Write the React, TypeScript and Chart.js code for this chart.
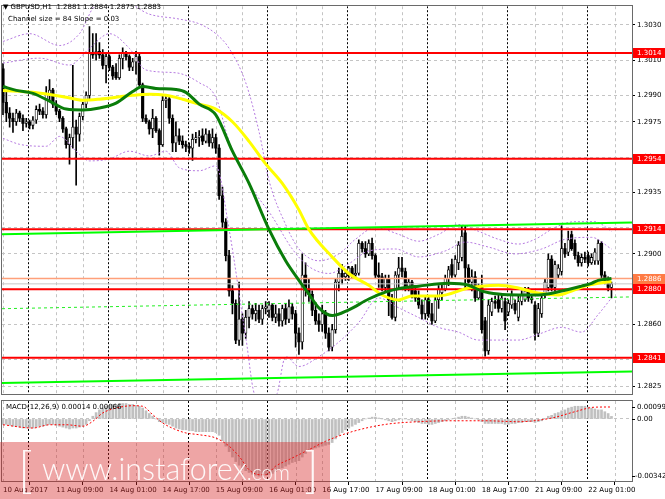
import React, { useEffect, useRef } from "react";
import { Chart, registerables } from "chart.js";

Chart.register(...registerables);

// ---------- texts ----------
const SYMBOL_TITLE = "GBPUSD,H1  1.2881 1.2884 1.2875 1.2883";
const CHANNEL_TITLE = "Channel size = 84 Slope = 0.03";
const MACD_TITLE = "MACD(12,26,9) 0.00014 0.00066";

// ---------- time axis ----------
const TIME_LABELS = [
  "10 Aug 2017", "11 Aug 09:00", "14 Aug 01:00", "14 Aug 17:00", "15 Aug 09:00", "16 Aug 01:00",
  "16 Aug 17:00", "17 Aug 09:00", "18 Aug 01:00", "18 Aug 17:00", "21 Aug 09:00", "22 Aug 01:00",
];
const TIME_LABEL_BARS = [0, 16, 32, 48, 64, 80, 96, 112, 128, 144, 160, 176];
const GRID_BARS = [0, 16, 24, 40, 48, 64, 72, 88, 96, 112, 120, 136, 144, 160, 168, 184];
const DAY_SEPARATOR_BARS = [7.5, 31.5, 55.5, 79.5, 103.5, 127.5, 151.5, 175.5];
const X_MIN = -0.3;
const X_MAX = 189.17;

// ---------- price axis ----------
const PRICE_MIN = 1.28206;
const PRICE_MAX = 1.30406;
const PRICE_TICKS = [1.2825, 1.284, 1.286, 1.288, 1.29, 1.2915, 1.2935, 1.2955, 1.2975, 1.299, 1.301, 1.303];
const RED_LEVELS = [1.3014, 1.2954, 1.2914, 1.288, 1.2841];
const ASK_LEVEL = 1.2886;
const BID_LEVEL = 1.2883;
const CHANNEL_UPPER = [1.29111, 1.29178];
const CHANNEL_LOWER = [1.28267, 1.28333];
const CHANNEL_MIDDLE = [1.28689, 1.28756];

// ---------- candles (H1) ----------
const OPEN = [
  1.3005, 1.2986, 1.298, 1.2977, 1.2975, 1.298, 1.2977, 1.2974, 1.2975, 1.2973, 1.2976, 1.2982,
  1.2981, 1.2979, 1.2991, 1.2993, 1.2985, 1.2981, 1.2977, 1.2971, 1.2962, 1.2966, 1.2972, 1.2968,
  1.2978, 1.2985, 1.299, 1.3014, 1.3013, 1.3015, 1.3013, 1.3007, 1.3012, 1.3006, 1.3003, 1.3,
  1.3011, 1.3014, 1.3012, 1.3006, 1.3009, 1.3012, 1.2996, 1.2977, 1.2975, 1.2971, 1.2977, 1.297,
  1.2962, 1.2987, 1.2988, 1.2977, 1.2963, 1.2967, 1.2964, 1.2962, 1.2961, 1.296, 1.2965, 1.2966,
  1.2967, 1.2964, 1.2968, 1.2963, 1.2966, 1.296, 1.2933, 1.2918, 1.2899, 1.2879, 1.2872, 1.2851,
  1.2863, 1.2855, 1.2864, 1.2869, 1.2866, 1.2868, 1.2863, 1.2869, 1.2868, 1.2871, 1.2864, 1.2866,
  1.2862, 1.2869, 1.2863, 1.287, 1.2866, 1.2855, 1.285, 1.2888, 1.288, 1.2877, 1.2868, 1.2862,
  1.286, 1.2866, 1.2855, 1.2847, 1.2857, 1.2884, 1.2889, 1.2887, 1.2889, 1.2892, 1.2888, 1.2889,
  1.2906, 1.2903, 1.29, 1.2906, 1.2899, 1.2888, 1.2887, 1.2881, 1.2886, 1.2874, 1.2864, 1.2888,
  1.2892, 1.289, 1.2881, 1.2884, 1.2879, 1.2875, 1.2871, 1.2866, 1.2874, 1.2866, 1.2862, 1.2874,
  1.2878, 1.288, 1.2886, 1.2894, 1.2888, 1.2895, 1.2898, 1.2912, 1.2892, 1.2884, 1.2887, 1.2875,
  1.2881, 1.2862, 1.2845, 1.2867, 1.2873, 1.2874, 1.2869, 1.2873, 1.2867, 1.2871, 1.2872, 1.2864,
  1.2873, 1.2874, 1.2879, 1.2875, 1.2871, 1.2855, 1.2866, 1.2877, 1.2881, 1.2897, 1.2881, 1.2888,
  1.289, 1.2903, 1.2901, 1.2911, 1.2906, 1.2899, 1.2895, 1.2898, 1.2899, 1.2895, 1.2896, 1.2896,
  1.2906, 1.2888, 1.2885, 1.2881,
];
const HIGH = [
  1.3008, 1.2992, 1.2983, 1.298, 1.2982, 1.2981, 1.2979, 1.2977, 1.2976, 1.2978, 1.2984, 1.2985,
  1.2983, 1.2995, 1.2999, 1.2994, 1.2987, 1.2982, 1.2978, 1.2972, 1.2968, 1.3007, 1.2976, 1.298,
  1.2986, 1.2992, 1.3029, 1.3025, 1.3025, 1.302, 1.3016, 1.3014, 1.3013, 1.3007, 1.3008, 1.3013,
  1.3017, 1.3015, 1.3013, 1.3011, 1.3015, 1.3014, 1.2997, 1.2979, 1.2976, 1.2982, 1.2978, 1.2971,
  1.299, 1.299, 1.2989, 1.2979, 1.2975, 1.2971, 1.2967, 1.2964, 1.2963, 1.2968, 1.2969, 1.297,
  1.2971, 1.2971, 1.297, 1.2971, 1.2968, 1.2962, 1.2938, 1.292, 1.2902, 1.2882, 1.2874, 1.2884,
  1.2866, 1.2868, 1.2873, 1.2871, 1.2872, 1.2871, 1.2871, 1.2873, 1.2873, 1.2872, 1.2871, 1.2869,
  1.2871, 1.2872, 1.2874, 1.2872, 1.2868, 1.2858, 1.29, 1.2895, 1.2886, 1.2879, 1.2872, 1.2866,
  1.2871, 1.2868, 1.2858, 1.286, 1.2886, 1.2892, 1.2894, 1.2891, 1.2893, 1.2893, 1.2894, 1.2908,
  1.2907, 1.2907, 1.2908, 1.2909, 1.29, 1.2895, 1.2889, 1.2888, 1.2888, 1.2877, 1.289, 1.2898,
  1.2898, 1.2892, 1.2886, 1.2885, 1.2882, 1.2879, 1.2874, 1.2876, 1.2876, 1.2872, 1.2876, 1.2882,
  1.2883, 1.2888, 1.2893, 1.2897, 1.2899, 1.2907, 1.2916, 1.2916, 1.2894, 1.2891, 1.289, 1.2883,
  1.2888, 1.2864, 1.2874, 1.2875, 1.2876, 1.2877, 1.2877, 1.2875, 1.2874, 1.2879, 1.2874, 1.2876,
  1.2879, 1.2881, 1.2881, 1.2877, 1.2873, 1.2872, 1.2878, 1.2886, 1.29, 1.2899, 1.2896, 1.2894,
  1.2916, 1.2906, 1.2913, 1.2913, 1.2908, 1.2901, 1.29, 1.2901, 1.2901, 1.29, 1.2903, 1.2908,
  1.2907, 1.289, 1.2887, 1.2884,
];
const LOW = [
  1.2979, 1.2975, 1.2972, 1.2969, 1.2973, 1.2975, 1.297, 1.2972, 1.2971, 1.2971, 1.2974, 1.2979,
  1.2977, 1.2977, 1.2987, 1.2983, 1.2979, 1.2975, 1.2969, 1.296, 1.2951, 1.296, 1.2939, 1.2964,
  1.2976, 1.2983, 1.2988, 1.3011, 1.301, 1.3011, 1.3005, 1.2997, 1.3004, 1.2999, 1.2999, 1.2999,
  1.3005, 1.301, 1.3004, 1.3004, 1.3002, 1.2995, 1.2975, 1.2974, 1.2968, 1.2966, 1.2969, 1.2956,
  1.2961, 1.2983, 1.2974, 1.2958, 1.2958, 1.2962, 1.296, 1.2958, 1.2957, 1.2953, 1.2963, 1.2961,
  1.2962, 1.2963, 1.2961, 1.296, 1.2957, 1.2931, 1.2915, 1.2896, 1.2876, 1.2866, 1.2849, 1.2848,
  1.2848, 1.2852, 1.2858, 1.2863, 1.2862, 1.2861, 1.286, 1.2866, 1.2864, 1.2862, 1.2861, 1.2859,
  1.2859, 1.286, 1.2861, 1.2863, 1.2847, 1.2843, 1.2846, 1.2876, 1.2873, 1.2865, 1.286, 1.2856,
  1.2856, 1.2852, 1.2845, 1.2845, 1.2855, 1.2879, 1.2883, 1.2885, 1.2885, 1.2886, 1.2886, 1.2888,
  1.2901, 1.2898, 1.2899, 1.2897, 1.2886, 1.2881, 1.2879, 1.2879, 1.2865, 1.2863, 1.2862, 1.288,
  1.2887, 1.2879, 1.2879, 1.2875, 1.2873, 1.2869, 1.2863, 1.2863, 1.2864, 1.286, 1.2861, 1.2869,
  1.2874, 1.2879, 1.2882, 1.2886, 1.2887, 1.2891, 1.2896, 1.288, 1.2882, 1.2879, 1.2873, 1.2874,
  1.2855, 1.2842, 1.2843, 1.2865, 1.2869, 1.2867, 1.2867, 1.2857, 1.2865, 1.2869, 1.2866, 1.2862,
  1.2871, 1.2873, 1.2873, 1.2872, 1.2851, 1.2853, 1.2864, 1.2875, 1.2879, 1.2879, 1.2879, 1.2886,
  1.2888, 1.2898, 1.2899, 1.2902, 1.2897, 1.2893, 1.2893, 1.2895, 1.2893, 1.2894, 1.2894, 1.2894,
  1.2886, 1.2883, 1.2879, 1.2875,
];
const CLOSE = [
  1.2986, 1.298, 1.2977, 1.2975, 1.298, 1.2977, 1.2974, 1.2975, 1.2973, 1.2976, 1.2982, 1.2981,
  1.2979, 1.2991, 1.2993, 1.2985, 1.2981, 1.2977, 1.2971, 1.2962, 1.2966, 1.2972, 1.2968, 1.2978,
  1.2985, 1.299, 1.3014, 1.3013, 1.3015, 1.3013, 1.3007, 1.3012, 1.3006, 1.3001, 1.3, 1.3011,
  1.3014, 1.3012, 1.3006, 1.3009, 1.3012, 1.2996, 1.2977, 1.2975, 1.2971, 1.2977, 1.297, 1.2962,
  1.2987, 1.2988, 1.2977, 1.2963, 1.2967, 1.2964, 1.2962, 1.2961, 1.296, 1.2965, 1.2966, 1.2967,
  1.2964, 1.2968, 1.2963, 1.2966, 1.296, 1.2933, 1.2918, 1.2899, 1.2879, 1.2872, 1.2851, 1.2863,
  1.2855, 1.2864, 1.2869, 1.2866, 1.2868, 1.2863, 1.2869, 1.287, 1.2871, 1.2864, 1.2866, 1.2862,
  1.2869, 1.2863, 1.287, 1.2866, 1.2855, 1.285, 1.2888, 1.288, 1.2877, 1.2868, 1.2862, 1.286,
  1.2866, 1.2855, 1.2847, 1.2857, 1.2884, 1.2889, 1.2887, 1.2889, 1.2892, 1.2888, 1.2889, 1.2906,
  1.2903, 1.29, 1.2906, 1.2899, 1.2888, 1.2887, 1.2881, 1.2886, 1.2874, 1.2864, 1.2888, 1.2892,
  1.289, 1.2881, 1.2884, 1.2877, 1.2875, 1.2871, 1.2866, 1.2874, 1.2866, 1.2862, 1.2874, 1.288,
  1.288, 1.2886, 1.2891, 1.2888, 1.2897, 1.2905, 1.291, 1.2892, 1.2884, 1.2887, 1.2875, 1.288,
  1.2857, 1.2845, 1.2871, 1.2873, 1.2872, 1.2869, 1.2875, 1.2862, 1.2872, 1.2877, 1.2868, 1.2873,
  1.2877, 1.2879, 1.2875, 1.2874, 1.2855, 1.2869, 1.2875, 1.2884, 1.2897, 1.2881, 1.2894, 1.2892,
  1.2903, 1.29, 1.2908, 1.2903, 1.2899, 1.2895, 1.2898, 1.2897, 1.2895, 1.2898, 1.2901, 1.2906,
  1.2888, 1.2885, 1.2881, 1.2883,
];

// ---------- moving averages (read at sample bars) ----------
const YELLOW_BARS = [0, 9, 19, 24, 29, 39, 44, 49, 54, 59, 64, 69, 74, 79, 84, 89, 92, 99, 104, 110, 114, 119, 123, 131, 140, 144, 149, 155, 161, 167, 171, 175, 179, 183];
const YELLOW_MA = [1.29928, 1.29917, 1.29889, 1.29872, 1.29878, 1.299, 1.29906, 1.299, 1.29878, 1.2985, 1.29822, 1.2975, 1.29639, 1.29511, 1.294, 1.2925, 1.29139, 1.28983, 1.28889, 1.28822, 1.28767, 1.28739, 1.28761, 1.28761, 1.28806, 1.28817, 1.28822, 1.28806, 1.28778, 1.28767, 1.28789, 1.28817, 1.28833, 1.28844];
const GREEN_BARS = [0, 4, 9, 14, 19, 24, 29, 34, 39, 42, 46, 52, 55, 59, 64, 69, 74, 80, 85, 89, 92, 95, 99, 104, 110, 115, 120, 125, 134, 140, 144, 149, 155, 161, 168, 174, 177, 179, 183];
const GREEN_MA = [1.2995, 1.29928, 1.29911, 1.29867, 1.29822, 1.29817, 1.29828, 1.29856, 1.29922, 1.2995, 1.29939, 1.29933, 1.29917, 1.2985, 1.29789, 1.29583, 1.294, 1.29139, 1.28961, 1.2885, 1.28772, 1.28694, 1.2865, 1.28683, 1.28744, 1.28783, 1.28806, 1.28817, 1.28833, 1.28822, 1.28789, 1.28772, 1.28767, 1.28767, 1.28789, 1.28817, 1.28833, 1.2885, 1.28861];

// ---------- dotted bands (read at sample bars) ----------
const BAND_UPPER_BARS = [0, 8, 17, 23, 28, 35, 44, 53, 59, 64, 68, 73, 77, 80, 85, 89, 95, 101, 106, 112, 119, 125, 131, 137, 143, 149, 155, 160, 166, 172, 178, 183];
const BAND_UPPER = [1.30206, 1.3025, 1.30183, 1.3025, 1.30417, 1.30444, 1.30361, 1.30333, 1.30306, 1.3025, 1.30167, 1.29972, 1.29694, 1.29417, 1.29167, 1.29028, 1.28961, 1.29, 1.29083, 1.2915, 1.29111, 1.29072, 1.29111, 1.29167, 1.29128, 1.29083, 1.29056, 1.29083, 1.2915, 1.29183, 1.29183, 1.29128];
const BAND_INNER_BARS = [0, 11, 20, 26, 32, 38, 43, 52, 59, 64, 68, 74, 81, 87, 92, 98, 104, 110, 118, 125, 133, 139, 146, 154, 162, 169, 177, 183];
const BAND_INNER = [1.30083, 1.30111, 1.30072, 1.30167, 1.3025, 1.30167, 1.30044, 1.30028, 1.29972, 1.29889, 1.29639, 1.294, 1.29211, 1.29028, 1.28928, 1.28889, 1.28944, 1.29017, 1.29028, 1.28983, 1.29017, 1.29067, 1.29039, 1.29, 1.29028, 1.29083, 1.29094, 1.29028];
const BAND_LOWER_BARS = [0, 5, 13, 17, 22, 26, 32, 38, 44, 49, 53, 59, 64, 68, 73, 76, 82, 85, 89, 95, 101, 107, 113, 119, 125, 131, 137, 143, 149, 155, 161, 168, 174, 179, 183];
const BAND_LOWER = [1.29656, 1.29622, 1.29611, 1.29667, 1.29583, 1.29528, 1.29539, 1.29583, 1.29556, 1.29583, 1.29489, 1.29472, 1.295, 1.29139, 1.28528, 1.28194, 1.28194, 1.28417, 1.28361, 1.28417, 1.285, 1.28611, 1.2875, 1.28694, 1.28639, 1.28583, 1.28556, 1.28511, 1.28511, 1.28511, 1.28544, 1.28583, 1.28556, 1.28656, 1.2875];

// ---------- MACD ----------
const MACD_MIN = -0.00342;
const MACD_MAX = 0.00099;
const MACD_HIST_PIPS = [
  -3, -3, -3.5, -4, -4, -4.5, -5, -5, -5, -5, -4.5, -4,
  -4, -3.5, -3, -3, -3.5, -4, -4.5, -5, -5.5, -5, -5, -4.5,
  -4, -3, -1, 1.5, 3.5, 5, 6, 7, 7.5, 8, 8, 8.5,
  8.5, 8.5, 8, 8, 7.5, 7, 6, 4.5, 3, 1.5, 0, -1.5,
  -2, -2.5, -3, -4, -5, -5.5, -6, -6, -6.5, -6.5, -7, -7,
  -7, -7, -7, -7, -7.5, -9, -12, -15, -18, -21, -23.5, -25.5,
  -27, -28.5, -29.5, -30.5, -31, -31.5, -31.5, -31, -30.5, -30, -29, -28,
  -27, -26, -25, -24, -23.5, -23, -21, -19, -17.5, -16.5, -16, -15.5,
  -15, -14.5, -14, -13, -11, -9, -7.5, -6, -5, -4, -3, -2,
  -1, 0, 0.5, 1, 1, 0.5, 0, -0.5, -1, -1.5, -1, -0.5,
  0, 0, -0.5, -1, -1.5, -2, -2.5, -2.5, -3, -3, -2.5, -2,
  -1.5, -1, -0.5, 0, 0.5, 1, 1.5, 1.5, 1, 0.5, 0, -0.5,
  -1.5, -2.5, -2.5, -2.5, -2.5, -2.5, -2.5, -3, -3, -2.5, -2.5, -2,
  -2, -1.5, -1.5, -1.5, -2, -1.5, -1, 0, 1.5, 2, 3, 3.5,
  4.5, 5, 6, 6.5, 7, 7, 7, 7, 6.5, 6, 5.5, 5,
  5, 4, 3, 1.4,
];
const MACD_SIGNAL_BARS = [0, 9, 14, 19, 24, 27, 30, 34, 39, 42, 45, 48, 52, 55, 59, 64, 68, 71, 74, 77, 79, 82, 86, 89, 93, 97, 105, 115, 125, 135, 145, 155, 165, 172, 178, 183];
const MACD_SIGNAL_PIPS = [-3.2, -5, -3.2, -3.2, -4, -1.3, 3.3, 6, 7.3, 7, 2.4, -2.2, -5.9, -7.7, -8.7, -10.5, -15, -20.6, -28, -30.7, -30.7, -26, -22.4, -19.7, -16, -12.3, -7, -3, -1.5, -1, -1, -1.5, 0.5, 4, 6.5, 6.6];

// ---------- styling ----------
const FONT = "DejaVu Sans";
const AXIS_W = 33;
const BAND_COLOR = "#b67be0";

const pts = (bars: number[], vals: number[], k = 1) => bars.map((b, i) => ({ x: b, y: vals[i] * k }));
const levelLine = (v: number) => [{ x: X_MIN, y: v }, { x: X_MAX, y: v }];
const slopeLine = (v: number[]) => [{ x: X_MIN, y: v[0] }, { x: X_MAX, y: v[1] }];

function drawVGrid(chart: any) {
  const { ctx, chartArea: a, scales } = chart;
  const x = scales.x;
  ctx.save();
  ctx.beginPath();
  ctx.rect(a.left, a.top, a.right - a.left, a.bottom - a.top);
  ctx.clip();
  ctx.lineWidth = 1;
  ctx.strokeStyle = "#c4c4c4";
  ctx.setLineDash([3, 3]);
  for (const b of GRID_BARS) {
    const px = Math.round(x.getPixelForValue(b)) + 0.5;
    ctx.beginPath();
    ctx.moveTo(px, a.top);
    ctx.lineTo(px, a.bottom);
    ctx.stroke();
  }
  ctx.strokeStyle = "#000";
  ctx.setLineDash([2, 2]);
  for (const b of DAY_SEPARATOR_BARS) {
    const px = Math.round(x.getPixelForValue(b)) + 0.5;
    ctx.beginPath();
    ctx.moveTo(px, a.top);
    ctx.lineTo(px, a.bottom);
    ctx.stroke();
  }
  ctx.restore();
}

function drawFrame(chart: any) {
  const { ctx, chartArea: a } = chart;
  ctx.save();
  ctx.strokeStyle = "#6a6a6a";
  ctx.lineWidth = 1;
  ctx.strokeRect(Math.round(a.left) - 0.5, Math.round(a.top) - 0.5, Math.round(a.right - a.left) + 1, Math.round(a.bottom - a.top) + 1);
  ctx.restore();
}

const gridPlugin = {
  id: "mtGrid",
  beforeDatasetsDraw(chart: any) {
    drawVGrid(chart);
  },
  afterDraw(chart: any) {
    drawFrame(chart);
  },
};

const priceLabelPlugin = {
  id: "priceLabels",
  afterDraw(chart: any) {
    const { ctx, chartArea: a, scales } = chart;
    const y = scales.y;
    const items = [
      { v: BID_LEVEL, bg: "#000000" },
      { v: ASK_LEVEL, bg: "#ff7b45" },
      ...RED_LEVELS.map((v) => ({ v, bg: "#ff0000" })),
    ];
    ctx.save();
    ctx.font = `7px ${FONT}`;
    ctx.textBaseline = "middle";
    ctx.textAlign = "left";
    for (const it of items) {
      const py = Math.round(y.getPixelForValue(it.v));
      ctx.fillStyle = it.bg;
      ctx.fillRect(a.right + 1, py - 5, 32, 10);
      ctx.fillStyle = "#ffffff";
      ctx.fillText(it.v.toFixed(4), a.right + 5, py + 0.5);
    }
    ctx.restore();
  },
};

const macdLabelPlugin = {
  id: "macdLabels",
  afterDraw(chart: any) {
    const { ctx, chartArea: a, scales } = chart;
    const y = scales.y;
    ctx.save();
    ctx.font = `7px ${FONT}`;
    ctx.fillStyle = "#000";
    ctx.strokeStyle = "#000";
    ctx.textAlign = "left";
    ctx.textBaseline = "middle";
    const rows = [
      { v: MACD_MAX, t: MACD_MAX.toFixed(5), dy: 6 },
      { v: 0, t: "0.00", dy: 0 },
      { v: MACD_MIN, t: MACD_MIN.toFixed(5), dy: -5 },
    ];
    for (const r of rows) {
      const py = Math.round(y.getPixelForValue(r.v) + r.dy) + 0.5;
      ctx.beginPath();
      ctx.moveTo(a.right, py);
      ctx.lineTo(a.right + 3, py);
      ctx.stroke();
      ctx.fillText(r.t, a.right + (r.v < 0 ? 3 : 5), py);
    }
    ctx.restore();
  },
};

function topConfig(): any {
  const wicks = OPEN.map((_, i) => ({ x: i, y: [LOW[i], HIGH[i]] }));
  const bear: any[] = [];
  const bull: any[] = [];
  OPEN.forEach((o, i) => {
    const c = CLOSE[i];
    if (c < o) bear.push({ x: i, y: [c, o] });
    else bull.push({ x: i, y: [o, c] });
  });
  const candleCommon = { type: "bar", grouped: false, borderSkipped: false, minBarLength: 1 };
  const lineCommon = { type: "line", pointRadius: 0, fill: false, tension: 0 };
  const bandCommon = { ...lineCommon, borderColor: BAND_COLOR, borderWidth: 1, borderDash: [2, 2], cubicInterpolationMode: "monotone", order: 12 };
  return {
    type: "bar",
    data: {
      datasets: [
        { ...candleCommon, data: wicks, backgroundColor: "#000", borderWidth: 0, barThickness: 1, order: 20 },
        { ...candleCommon, data: bear, backgroundColor: "#000", borderColor: "#000", borderWidth: 0, barThickness: 2.5, order: 19 },
        { ...candleCommon, data: bull, backgroundColor: "#ffffff", borderColor: "#000", borderWidth: 0.8, barThickness: 2.5, order: 19 },
        { ...bandCommon, data: pts(BAND_UPPER_BARS, BAND_UPPER) },
        { ...bandCommon, data: pts(BAND_INNER_BARS, BAND_INNER) },
        { ...bandCommon, data: pts(BAND_LOWER_BARS, BAND_LOWER) },
        { ...lineCommon, data: levelLine(BID_LEVEL), borderColor: "#c8c8c8", borderWidth: 1, order: 9 },
        { ...lineCommon, data: levelLine(ASK_LEVEL), borderColor: "#ffa07a", borderWidth: 1.5, order: 9 },
        ...RED_LEVELS.map((v) => ({ ...lineCommon, data: levelLine(v), borderColor: "#ff0000", borderWidth: 2, order: 8 })),
        { ...lineCommon, data: slopeLine(CHANNEL_MIDDLE), borderColor: "#22ee22", borderWidth: 1, borderDash: [3, 3], order: 7 },
        { ...lineCommon, data: slopeLine(CHANNEL_UPPER), borderColor: "#00ff00", borderWidth: 2, order: 7 },
        { ...lineCommon, data: slopeLine(CHANNEL_LOWER), borderColor: "#00ff00", borderWidth: 2, order: 7 },
        { ...lineCommon, data: pts(YELLOW_BARS, YELLOW_MA), borderColor: "#ffff00", borderWidth: 3, cubicInterpolationMode: "monotone", order: 3 },
        { ...lineCommon, data: pts(GREEN_BARS, GREEN_MA), borderColor: "#0a7d0a", borderWidth: 3, cubicInterpolationMode: "monotone", order: 2 },
      ],
    },
    options: {
      responsive: false,
      animation: false,
      devicePixelRatio: 1,
      layout: { padding: { left: 2, top: 2, bottom: 2, right: 0 } },
      plugins: { legend: { display: false }, tooltip: { enabled: false } },
      scales: {
        x: { type: "linear", min: X_MIN, max: X_MAX, display: false, offset: false },
        y: {
          type: "linear",
          position: "right",
          min: PRICE_MIN,
          max: PRICE_MAX,
          afterFit: (s: any) => {
            s.width = AXIS_W;
          },
          afterBuildTicks: (s: any) => {
            s.ticks = PRICE_TICKS.map((value) => ({ value }));
          },
          ticks: {
            autoSkip: false,
            color: "#000",
            font: { family: FONT, size: 7 },
            padding: 2,
            callback: (v: any) => Number(v).toFixed(4),
          },
          grid: { color: "#c4c4c4", tickColor: "#000", tickLength: 3, tickBorderDash: [] },
          border: { display: false, dash: [3, 3] },
        },
      },
    },
    plugins: [gridPlugin, priceLabelPlugin],
  };
}

function bottomConfig(): any {
  return {
    type: "bar",
    data: {
      datasets: [
        {
          type: "bar",
          data: MACD_HIST_PIPS.map((v, i) => ({ x: i, y: v / 10000 })),
          backgroundColor: "#c0c0c0",
          barThickness: 2,
          grouped: false,
          order: 2,
        },
        {
          type: "line",
          data: pts(MACD_SIGNAL_BARS, MACD_SIGNAL_PIPS, 1 / 10000),
          borderColor: "#ff0000",
          borderWidth: 1,
          borderDash: [2, 2],
          pointRadius: 0,
          cubicInterpolationMode: "monotone",
          order: 1,
        },
      ],
    },
    options: {
      responsive: false,
      animation: false,
      devicePixelRatio: 1,
      layout: { padding: { left: 2, top: 1, bottom: 0, right: 0 } },
      plugins: { legend: { display: false }, tooltip: { enabled: false } },
      scales: {
        x: {
          type: "linear",
          min: X_MIN,
          max: X_MAX,
          offset: false,
          afterFit: (s: any) => {
            s.height = 18;
          },
          afterBuildTicks: (s: any) => {
            s.ticks = TIME_LABEL_BARS.map((value) => ({ value }));
          },
          ticks: {
            autoSkip: false,
            maxRotation: 0,
            align: "start",
            color: "#000",
            padding: 1,
            font: { family: FONT, size: 7 },
            callback: (v: any) => {
              const k = TIME_LABEL_BARS.indexOf(Number(v));
              return k >= 0 ? TIME_LABELS[k] : "";
            },
          },
          grid: { drawOnChartArea: false, drawTicks: true, tickLength: 4, tickColor: "#000" },
          border: { display: false },
        },
        y: {
          type: "linear",
          position: "right",
          min: MACD_MIN,
          max: MACD_MAX,
          afterFit: (s: any) => {
            s.width = AXIS_W;
          },
          afterBuildTicks: (s: any) => {
            s.ticks = [{ value: 0 }];
          },
          ticks: { display: false },
          grid: { color: "#c4c4c4", drawTicks: false },
          border: { display: false, dash: [3, 3] },
        },
      },
    },
    plugins: [gridPlugin, macdLabelPlugin],
  };
}

export default function App() {
  const topRef = useRef<HTMLCanvasElement>(null);
  const botRef = useRef<HTMLCanvasElement>(null);

  useEffect(() => {
    document.body.style.margin = "0";
    Chart.defaults.font.family = FONT;
    const top = new Chart(topRef.current as HTMLCanvasElement, topConfig());
    const bot = new Chart(botRef.current as HTMLCanvasElement, bottomConfig());
    return () => {
      top.destroy();
      bot.destroy();
    };
  }, []);

  const small: React.CSSProperties = {
    position: "absolute",
    fontFamily: FONT,
    fontSize: 7,
    lineHeight: "9px",
    color: "#000",
    whiteSpace: "pre",
  };
  const wm: React.CSSProperties = {
    position: "absolute",
    fontFamily: "Lato, 'Open Sans', sans-serif",
    fontWeight: 300,
    color: "rgba(255,255,255,0.92)",
    whiteSpace: "pre",
  };

  return (
    <div style={{ position: "absolute", left: 0, top: 0, width: 665, height: 499, background: "#fff", overflow: "hidden" }}>
      <canvas ref={topRef} width={665} height={400} style={{ position: "absolute", left: 0, top: 0 }} />
      <canvas ref={botRef} width={665} height={99} style={{ position: "absolute", left: 0, top: 400 }} />
      <div style={{ ...small, left: 3, top: 3 }}>{"▼ " + SYMBOL_TITLE}</div>
      <div style={{ ...small, left: 8, top: 15 }}>{CHANNEL_TITLE}</div>
      <div style={{ ...small, left: 6, top: 403 }}>{MACD_TITLE}</div>
      <div style={{ position: "absolute", left: 0, top: 442, width: 330, height: 57, background: "rgba(214, 40, 40, 0.42)" }}>
        <span style={{ ...wm, left: 18, top: -2, fontSize: 50, lineHeight: "56px" }}>[</span>
        <span style={{ ...wm, left: 42, top: 8, fontSize: 30.5, lineHeight: "36px" }}>
          www.instaforex<span style={{ fontSize: 21 }}>.com</span>
        </span>
        <span style={{ ...wm, left: 304, top: -2, fontSize: 50, lineHeight: "56px" }}>]</span>
      </div>
    </div>
  );
}
